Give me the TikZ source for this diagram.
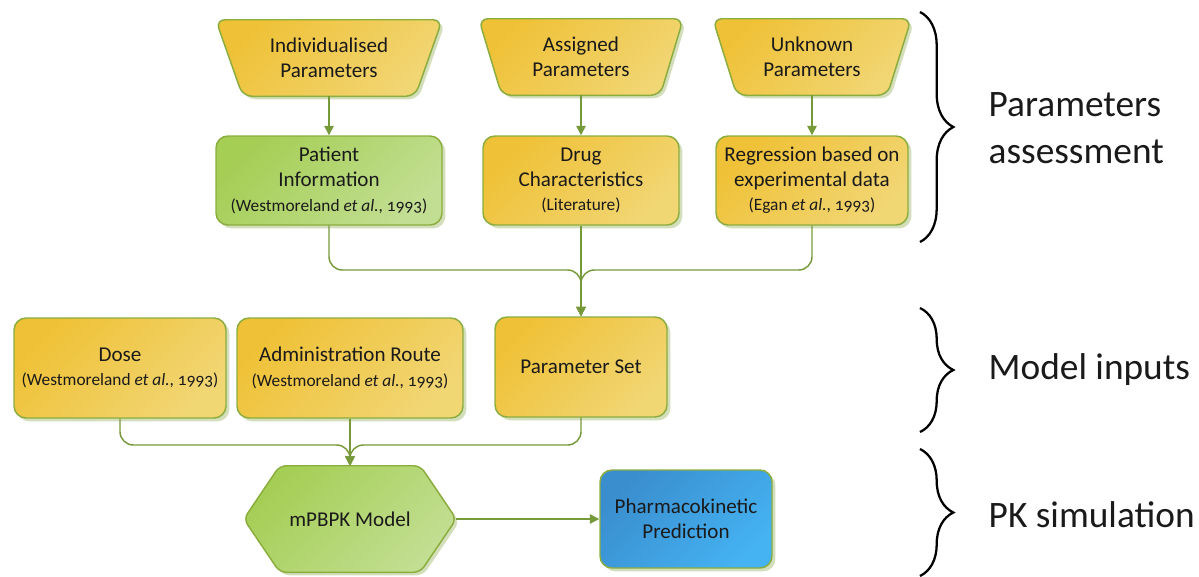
\documentclass[tikz,border=0pt]{standalone}
\usepackage{fontspec}
\setmainfont{Carlito}
\newfontfamily\citefont[Numbers=OldStyle]{Carlito}
\usetikzlibrary{arrows.meta,shadows,backgrounds,decorations.pathreplacing}
\definecolor{yelA}{HTML}{EFC136}
\definecolor{yelB}{HTML}{F1D674}
\definecolor{grnA}{HTML}{A5CE55}
\definecolor{grnB}{HTML}{C2DE92}
\definecolor{bluA}{HTML}{3A8ECE}
\definecolor{bluB}{HTML}{45B2F2}
\definecolor{bordc}{HTML}{8BAD3E}
\definecolor{linec}{HTML}{76993A}
\definecolor{shadc}{HTML}{D3DEBB}
\definecolor{txtc}{HTML}{1A1A1A}
\newcommand\mainsz{\fontsize{15.8}{18.5}\selectfont}
\newcommand\labsz{\fontsize{28}{35}\selectfont}
\newcommand\refc[1]{{\citefont\fontsize{13}{15}\selectfont #1}}
\newcommand\trapz[3]{%
 \fill[shadc, rounded corners=7pt] ([shift={(3,3)}]#1.north west) -- ([shift={(3,3)}]#1.north east) -- ([shift={(3-#2,3)}]#1.south east) -- ([shift={(3+#2,3)}]#1.south west) -- cycle;
 \path[shp, #3, rounded corners=7pt] (#1.north west) -- (#1.north east) -- ([shift={(-#2,0)}]#1.south east) -- ([shift={(#2,0)}]#1.south west) -- cycle;}
\newcommand\hexa[3]{%
 \fill[shadc, rounded corners=5pt] ([shift={(3,3)}]#1.west) -- ([shift={(3+#2,3)}]#1.north west) -- ([shift={(3-#2,3)}]#1.north east) -- ([shift={(3,3)}]#1.east) -- ([shift={(3-#2,3)}]#1.south east) -- ([shift={(3+#2,3)}]#1.south west) -- cycle;
 \path[shp, #3, rounded corners=5pt] (#1.west) -- ([shift={(#2,0)}]#1.north west) -- ([shift={(-#2,0)}]#1.north east) -- (#1.east) -- ([shift={(-#2,0)}]#1.south east) -- ([shift={(#2,0)}]#1.south west) -- cycle;}
\begin{document}
\begin{tikzpicture}[x=0.75pt,y=-0.75pt,
  every node/.style={text=txtc},
  shp/.style={draw=bordc, line width=1.1pt},
  yfill/.style={top color=yelA, bottom color=yelB, shading angle=45},
  gfill/.style={top color=grnA, bottom color=grnB, shading angle=45},
  bfill/.style={top color=bluA, bottom color=bluB, shading angle=45},
  rbox/.style={shp, rectangle, rounded corners=9pt, drop shadow={shadow xshift=2.5pt, shadow yshift=-2.5pt, fill=shadc, opacity=1}, align=center, font=\mainsz, inner sep=2pt},
  frame/.style={rectangle, inner sep=0pt, align=center, font=\mainsz},
  conn/.style={draw=linec, line width=1.1pt, -{Triangle[width=7pt,length=7pt]}},
  curly/.style={draw=black, line width=1.7pt, decorate, decoration={brace, amplitude=25pt}},
  lab/.style={anchor=west, font=\labsz, align=left}
]
\useasboundingbox (0,0) rectangle (1199,576);

% top row (trapezoids)
\node[frame, minimum width=226*0.75pt, minimum height=76*0.75pt] (ind) at (329,58) {Individualised\\Parameters};
\node[frame, minimum width=204*0.75pt, minimum height=76*0.75pt] (asg) at (581,57) {Assigned\\Parameters};
\node[frame, minimum width=198*0.75pt, minimum height=76*0.75pt] (unk) at (812,57) {Unknown\\Parameters};

% second row
\node[rbox, gfill, minimum width=226*0.75pt, minimum height=89*0.75pt] (pat) at (329,180.5) {Patient\\Information\\\refc{(Westmoreland \emph{et al.}, 1993)}};
\node[rbox, yfill, minimum width=196*0.75pt, minimum height=89*0.75pt] (drg) at (581,180.5) {Drug\\Characteristics\\\refc{(Literature)}};
\node[rbox, yfill, minimum width=192*0.75pt, minimum height=89*0.75pt] (reg) at (812,180.5) {Regression based on\\experimental data\\\refc{(Egan \emph{et al.}, 1993)}};

% third row
\node[rbox, yfill, minimum width=212*0.75pt, minimum height=100*0.75pt] (dose) at (120,368) {Dose\\\refc{(Westmoreland \emph{et al.}, 1993)}};
\node[rbox, yfill, minimum width=226*0.75pt, minimum height=100*0.75pt] (adm) at (350,368) {Administration Route\\\refc{(Westmoreland \emph{et al.}, 1993)}};
\node[rbox, yfill, minimum width=172*0.75pt, minimum height=100*0.75pt] (pset) at (581,367) {Parameter Set};

% bottom row
\node[frame, minimum width=212*0.75pt, minimum height=106*0.75pt] (hex) at (350,519) {mPBPK Model};
\node[rbox, bfill, minimum width=172*0.75pt, minimum height=98*0.75pt] (pk) at (686,519) {Pharmacokinetic\\Prediction};

\begin{pgfonlayer}{background}
 \trapz{ind}{27}{yfill}
 \trapz{asg}{23}{yfill}
 \trapz{unk}{24}{yfill}
 \hexa{hex}{36}{gfill}
\end{pgfonlayer}

% connectors
\coordinate (m1) at (581,270);
\coordinate (m2) at (350,445);
\draw[conn] (ind.south) -- (pat.north);
\draw[conn] (asg.south) -- (drg.north);
\draw[conn] (unk.south) -- (reg.north);
\draw[conn, rounded corners=10pt] (pat.south) |- (m1) -- (pset.north);
\draw[conn, rounded corners=10pt] (reg.south) |- (m1) -- (pset.north);
\draw[conn] (drg.south) -- (pset.north);
\draw[conn, rounded corners=10pt] (dose.south) |- (m2) -- (hex.north);
\draw[conn, rounded corners=10pt] (pset.south) |- (m2) -- (hex.north);
\draw[conn] (adm.south) -- (hex.north);
\draw[conn] (hex.east) -- (pk.west);

% braces
\coordinate (b1t) at (920,12);
\coordinate (b1b) at (920,242);
\coordinate (b2t) at (920,308);
\coordinate (b2b) at (920,432);
\coordinate (b3t) at (920,449);
\coordinate (b3b) at (920,576);
\draw[curly] (b1t) -- (b1b);
\draw[curly] (b2t) -- (b2b);
\draw[curly] (b3t) -- (b3b);

% labels
\node[lab] (l1) at (984,128) {Parameters\\assessment};
\node[lab] (l2) at (984,370) {Model inputs};
\node[lab] (l3) at (984,515) {PK simulation};
\end{tikzpicture}
\end{document}
